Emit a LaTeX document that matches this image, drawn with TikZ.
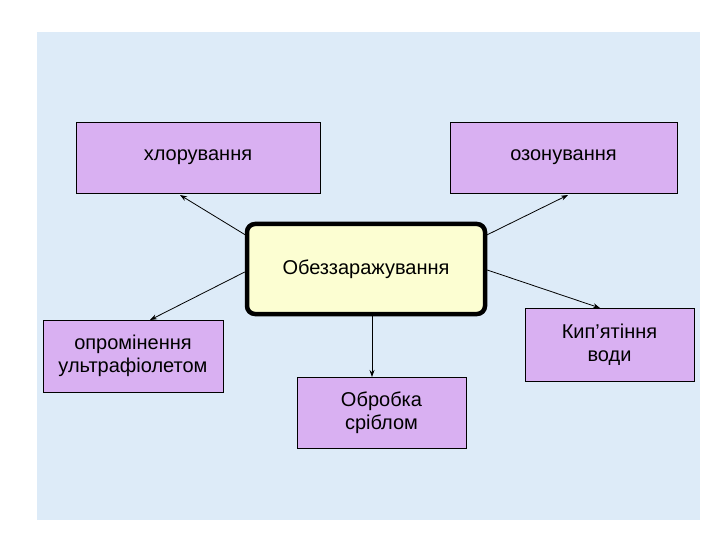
\documentclass[tikz,border=0pt]{standalone}
\usepackage{fontspec}
\setmainfont{Liberation Sans}
\usetikzlibrary{arrows.meta}
\begin{document}
\begin{tikzpicture}[x=1pt,y=-1pt,
  vbox/.style={draw=black,fill=violetfill,line width=0.8pt,align=center,font=\fontsize{20}{23}\selectfont},
  cbox/.style={draw=black,fill=yellowfill,line width=4.5pt,rounded corners=8pt,font=\fontsize{20}{23}\selectfont},
  arr/.style={-{Stealth[length=7pt,width=5pt]},line width=0.8pt}]
\definecolor{violetfill}{HTML}{D9B0F2}
\definecolor{yellowfill}{HTML}{FCFED2}
\definecolor{bgblue}{HTML}{DDEBF8}
\useasboundingbox (0,0) rectangle (720,540);
\fill[white] (0,0) rectangle (720,540);
\fill[bgblue] (37,32) rectangle (700,520);
\node[vbox,minimum width=244pt,minimum height=71pt] (chl) at (198,157.5) {хлорування};
\node[vbox,minimum width=227pt,minimum height=71pt] (ozo) at (563.5,157.5) {озонування};
\node[cbox,minimum width=238pt,minimum height=90pt] (cen) at (366,269) {Обеззаражування};
\node[vbox,minimum width=180pt,minimum height=72pt] (uv) at (133,356) {опромінення\\ультрафіолетом};
\node[vbox,minimum width=169pt,minimum height=73pt] (kip) at (609.5,344.5) {Кип’ятіння\\ води};
\node[vbox,minimum width=169pt,minimum height=71pt] (sil) at (381.5,412.5) {Обробка\\сріблом};
\coordinate (a1) at (180,195);
\coordinate (a2) at (568,195);
\coordinate (a3) at (150,320);
\coordinate (a4) at (600,308);
\coordinate (a5) at (372,377);
\draw[arr] (cen.north west) ++(2,14) -- (a1);
\draw[arr] (cen.north east) ++(-2,14) -- (a2);
\draw[arr] (cen.west) ++(0,3) -- (a3);
\draw[arr] (cen.east) ++(0,1) -- (a4);
\draw[arr] (cen.south -| a5) -- (a5);
\end{tikzpicture}
\end{document}
